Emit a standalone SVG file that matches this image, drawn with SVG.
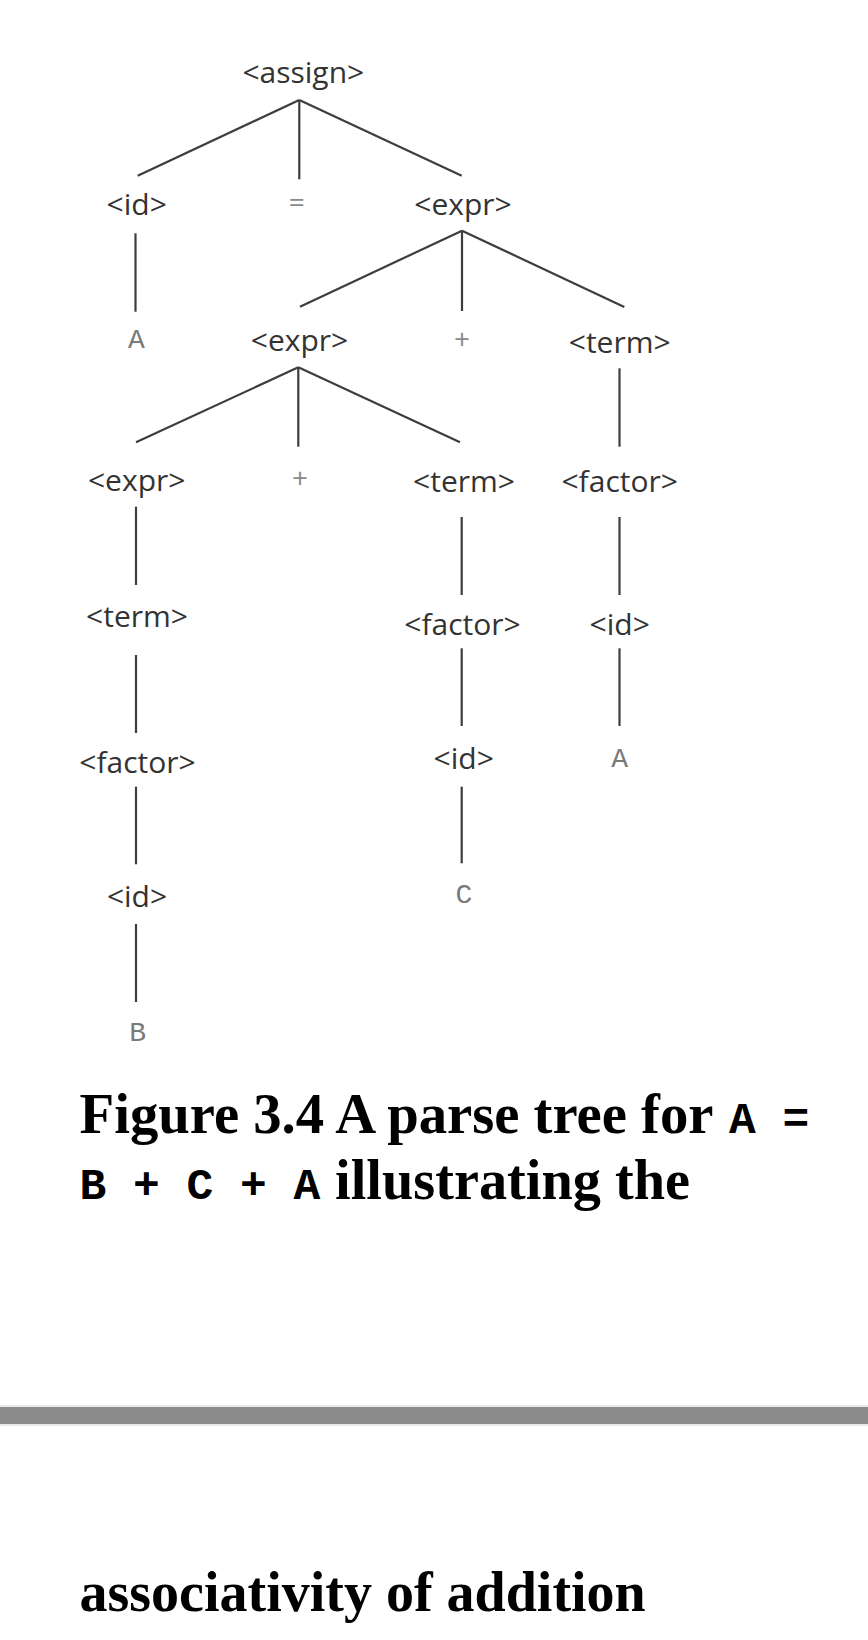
<svg xmlns="http://www.w3.org/2000/svg" width="868" height="1640" viewBox="0 0 868 1640">
  <style>
    .nt { font-family: "Open Sans", "Noto Sans", sans-serif; font-size: 30px; fill: #333333; text-anchor: middle; }
    .op { font-family: "Open Sans", "Noto Sans", sans-serif; font-size: 28px; fill: #8a8a8a; text-anchor: middle; }
    .tm { font-family: "Liberation Mono", "DejaVu Sans Mono", monospace; font-size: 28px; fill: #7a7a7a; text-anchor: middle; }
    .edge { stroke: #3d3d3d; stroke-width: 2.2; fill: none; stroke-linecap: butt; }
    .cap { font-family: "Liberation Serif", "Times New Roman", serif; font-size: 56px; font-weight: bold; fill: #000000; }
    .code { font-family: "Liberation Mono", "Courier New", monospace; font-size: 44.6px; font-weight: bold; fill: #000000; }
  </style>
  <rect x="0" y="0" width="868" height="1640" fill="#ffffff"/>

  <g id="connectors">
    <line class="edge" x1="299.3" y1="100" x2="137.7" y2="175.7"/>
    <line class="edge" x1="299.3" y1="100" x2="299.3" y2="179.3"/>
    <line class="edge" x1="299.3" y1="100" x2="461.7" y2="175.7"/>
    <line class="edge" x1="135.5" y1="233.3" x2="135.5" y2="311.7"/>
    <line class="edge" x1="462" y1="230.7" x2="300" y2="306.7"/>
    <line class="edge" x1="462" y1="230.7" x2="462" y2="311"/>
    <line class="edge" x1="462" y1="230.7" x2="624.3" y2="307"/>
    <line class="edge" x1="298.3" y1="367.3" x2="136" y2="442.3"/>
    <line class="edge" x1="298.3" y1="367.3" x2="298.3" y2="446.7"/>
    <line class="edge" x1="298.3" y1="367.3" x2="460" y2="442.3"/>
    <line class="edge" x1="619.5" y1="368.3" x2="619.5" y2="446.7"/>
    <line class="edge" x1="136" y1="506.7" x2="136" y2="585"/>
    <line class="edge" x1="461.7" y1="517" x2="461.7" y2="595"/>
    <line class="edge" x1="619.5" y1="517" x2="619.5" y2="595"/>
    <line class="edge" x1="136" y1="655" x2="136" y2="733"/>
    <line class="edge" x1="461.7" y1="648.3" x2="461.7" y2="726"/>
    <line class="edge" x1="619.5" y1="648.3" x2="619.5" y2="726"/>
    <line class="edge" x1="136" y1="786.7" x2="136" y2="864.3"/>
    <line class="edge" x1="461.7" y1="786.7" x2="461.7" y2="863.3"/>
    <line class="edge" x1="136" y1="924" x2="136" y2="1002"/>
  </g>

  <g id="n-assign"><text class="nt" x="303.3" y="82.7">&lt;assign&gt;</text></g>
  <g id="n-id1"><text class="nt" x="136.7" y="215">&lt;id&gt;</text></g>
  <g id="n-eq"><text class="op" x="296.7" y="211.5">=</text></g>
  <g id="n-expr1"><text class="nt" x="463" y="215">&lt;expr&gt;</text></g>

  <g id="n-A1"><text class="tm" x="136.3" y="348">A</text></g>
  <g id="n-expr2"><text class="nt" x="299.5" y="351">&lt;expr&gt;</text></g>
  <g id="n-plus1"><text class="op" x="462" y="349">+</text></g>
  <g id="n-term1"><text class="nt" x="619.7" y="352.7">&lt;term&gt;</text></g>

  <g id="n-expr3"><text class="nt" x="136.7" y="490.7">&lt;expr&gt;</text></g>
  <g id="n-plus2"><text class="op" x="300" y="488">+</text></g>
  <g id="n-term2"><text class="nt" x="464" y="491.7">&lt;term&gt;</text></g>
  <g id="n-factor1"><text class="nt" x="619.7" y="491.7">&lt;factor&gt;</text></g>

  <g id="n-term3"><text class="nt" x="137" y="627.3">&lt;term&gt;</text></g>
  <g id="n-factor2"><text class="nt" x="462.5" y="635">&lt;factor&gt;</text></g>
  <g id="n-id2"><text class="nt" x="619.7" y="635">&lt;id&gt;</text></g>

  <g id="n-factor3"><text class="nt" x="137.5" y="773.3">&lt;factor&gt;</text></g>
  <g id="n-id3"><text class="nt" x="463.7" y="769">&lt;id&gt;</text></g>
  <g id="n-A2"><text class="tm" x="619.7" y="766.7">A</text></g>

  <g id="n-id4"><text class="nt" x="137" y="907.3">&lt;id&gt;</text></g>
  <g id="n-C"><text class="tm" x="464" y="903">C</text></g>

  <g id="n-B"><text class="tm" x="137.7" y="1041">B</text></g>

  <g id="caption">
    <text class="cap" x="79.5" y="1133" textLength="634" lengthAdjust="spacingAndGlyphs">Figure 3.4 A parse tree for</text>
    <text class="code" y="1133"><tspan x="729">A</tspan><tspan x="782.5">=</tspan></text>
    <text class="code" x="79.5" y="1199">B + C + A</text>
    <text class="cap" x="335" y="1199" textLength="355" lengthAdjust="spacingAndGlyphs">illustrating the</text>
    <text class="cap" x="79.5" y="1611">associativity of addition</text>
  </g>

  <g id="separator">
    <rect x="0" y="1405" width="868" height="21" fill="#e8e8e8"/>
    <rect x="0" y="1407" width="868" height="17" fill="#8c8c8c"/>
  </g>
</svg>
